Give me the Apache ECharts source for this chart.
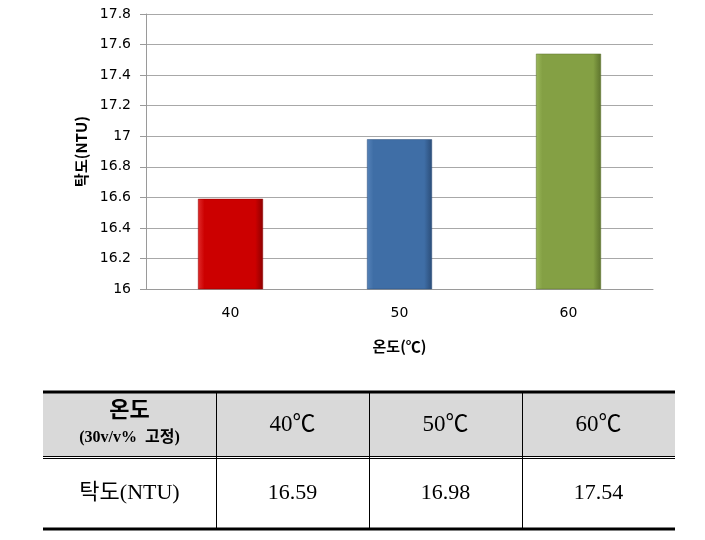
<!DOCTYPE html>
<html>
<head>
<meta charset="utf-8">
<script src="https://cdn.jsdelivr.net/npm/echarts@6/dist/echarts.min.js"></script>
<style>html,body{margin:0;padding:0;background:#fff}#c{width:705px;height:540px}</style>
</head>
<body>
<div id="c"></div>
<script>
const categories = ['40', '50', '60'];
const turbidity = [16.59, 16.98, 17.54];
const yTicks = { min: 16, max: 17.8, interval: 0.2 };
const xAxisName = '온도(℃)';
const yAxisName = '탁도(NTU)';
const tableHeadTitle = '온도';
const tableHeadSub = '(30v/v%  고정)';
const tableColLabels = ['40℃', '50℃', '60℃'];
const tableRowLabel = '탁도(NTU)';
const barColors = [
  ['#e02a2a', '#cc0000', '#8e0000'],
  ['#5582b8', '#3f6ea6', '#2b4d78'],
  ['#9ab75a', '#84a044', '#5d732d']
];

const chart = echarts.init(document.getElementById('c'), null, { renderer: 'canvas' });

function grad(c) {
  return new echarts.graphic.LinearGradient(0, 0, 1, 0, [
    { offset: 0, color: c[0] },
    { offset: 0.1, color: c[1] },
    { offset: 0.88, color: c[1] },
    { offset: 1, color: c[2] }
  ]);
}

// table geometry
const colX = [43, 216, 369, 522, 675];
const yTop = 393, yMid = 457, yBot = 529;
const serif = '"Liberation Serif", "Noto Sans CJK KR", serif';
const g = [];
g.push({ type: 'rect', shape: { x: colX[0], y: yTop, width: colX[4] - colX[0], height: yMid - 1 - yTop }, style: { fill: '#d9d9d9' }, silent: true });
g.push({ type: 'line', shape: { x1: colX[0], y1: yTop - 1, x2: colX[4], y2: yTop - 1 }, style: { stroke: '#000', lineWidth: 3 } });
g.push({ type: 'line', shape: { x1: colX[0], y1: yMid - 1 + 0.5, x2: colX[4], y2: yMid - 1 + 0.5 }, style: { stroke: '#000', lineWidth: 1 } });
g.push({ type: 'line', shape: { x1: colX[0], y1: yMid + 1 + 0.5, x2: colX[4], y2: yMid + 1 + 0.5 }, style: { stroke: '#000', lineWidth: 1 } });
g.push({ type: 'line', shape: { x1: colX[0], y1: yBot, x2: colX[4], y2: yBot }, style: { stroke: '#000', lineWidth: 3 } });
for (let i = 1; i < 4; i++) {
  g.push({ type: 'line', shape: { x1: colX[i] + 0.5, y1: yTop, x2: colX[i] + 0.5, y2: yBot }, style: { stroke: '#000', lineWidth: 1 } });
}
const c0 = (colX[0] + colX[1]) / 2;
g.push({ type: 'text', x: c0, y: 411, style: { text: tableHeadTitle, font: 'bold 22px ' + serif, fill: '#000', textAlign: 'center', textVerticalAlign: 'middle' } });
g.push({ type: 'text', x: c0, y: 438, style: { text: tableHeadSub, font: 'bold 16px ' + serif, fill: '#000', textAlign: 'center', textVerticalAlign: 'middle' } });
g.push({ type: 'text', x: c0, y: 493, style: { text: tableRowLabel, font: '22px ' + serif, fill: '#000', textAlign: 'center', textVerticalAlign: 'middle' } });
for (let i = 0; i < 3; i++) {
  const cx = (colX[i + 1] + colX[i + 2]) / 2;
  g.push({ type: 'text', x: cx, y: 425, style: { text: tableColLabels[i], font: '23px ' + serif, fill: '#000', textAlign: 'center', textVerticalAlign: 'middle' } });
  g.push({ type: 'text', x: cx, y: 493, style: { text: turbidity[i].toFixed(2), font: '22px ' + serif, fill: '#000', textAlign: 'center', textVerticalAlign: 'middle' } });
}

chart.setOption({
  animation: false,
  backgroundColor: '#fff',
  grid: { left: 146, right: 52, top: 14, bottom: 251, containLabel: false },
  xAxis: {
    type: 'category',
    data: categories,
    name: xAxisName,
    nameLocation: 'middle',
    nameGap: 50,
    nameTextStyle: { fontFamily: '"Noto Sans CJK KR", sans-serif', fontWeight: 'bold', fontSize: 15, color: '#000' },
    axisLine: { lineStyle: { color: '#9a9a9a', width: 1 } },
    axisTick: { show: false },
    axisLabel: { margin: 17, fontFamily: '"DejaVu Sans", sans-serif', fontSize: 14, color: '#000' }
  },
  yAxis: {
    type: 'value',
    min: yTicks.min,
    max: yTicks.max,
    interval: yTicks.interval,
    name: yAxisName,
    nameLocation: 'middle',
    nameGap: 57,
    nameRotate: 90,
    nameTextStyle: { fontFamily: '"Noto Sans CJK KR", sans-serif', fontWeight: 'bold', fontSize: 15, color: '#000' },
    axisLine: { show: true, lineStyle: { color: '#9a9a9a', width: 1 } },
    axisTick: { show: true, length: 6, lineStyle: { color: '#9a9a9a' } },
    splitLine: { lineStyle: { color: '#a8a8a8', width: 1 } },
    axisLabel: {
      margin: 15,
      fontFamily: '"DejaVu Sans", sans-serif',
      fontSize: 14,
      color: '#000',
      formatter: v => String(Math.round(v * 10) / 10)
    }
  },
  series: [{
    type: 'bar',
    barWidth: 65,
    data: turbidity.map((v, i) => ({
      value: v,
      itemStyle: { color: grad(barColors[i]), borderColor: barColors[i][2], borderWidth: 0.5 }
    }))
  }],
  graphic: g
});
</script>
</body>
</html>
